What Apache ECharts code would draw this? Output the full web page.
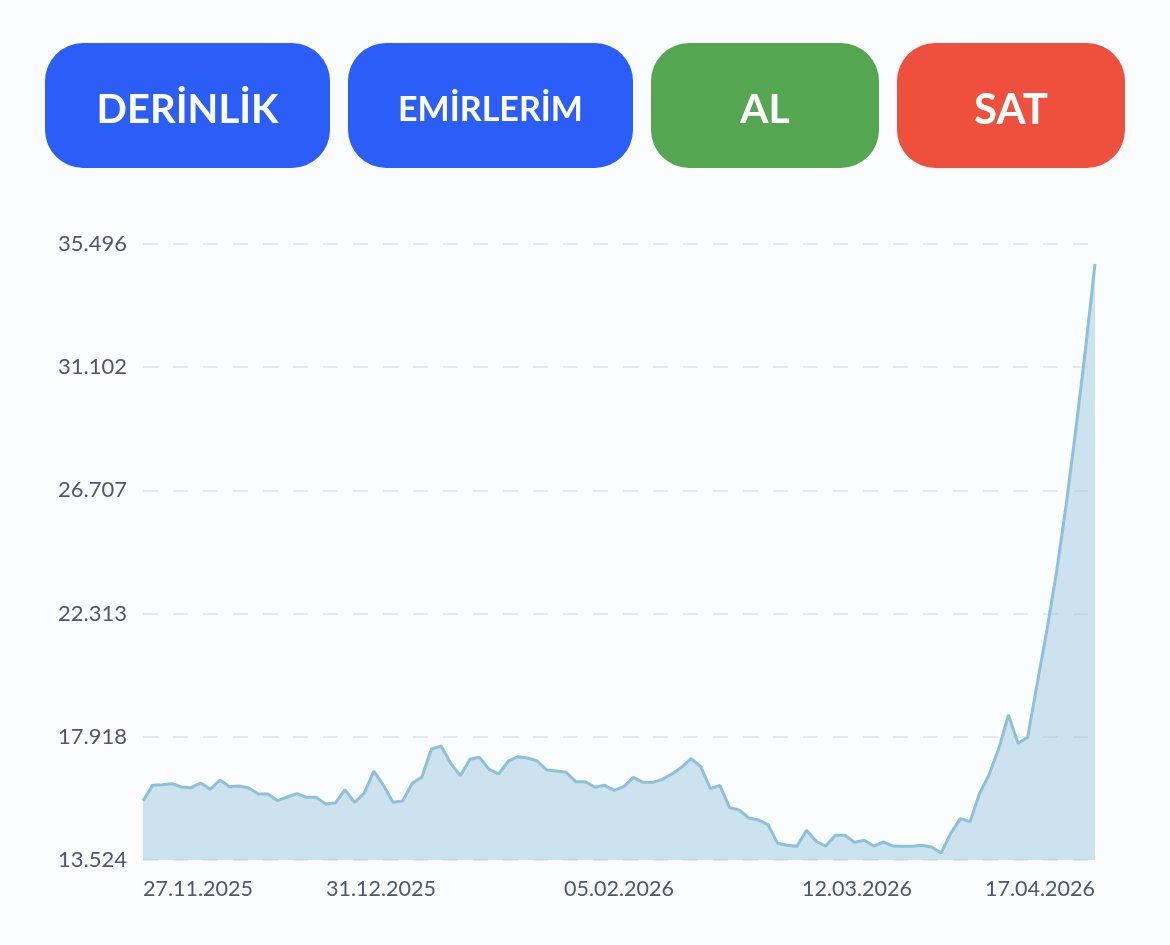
<!DOCTYPE html>
<html lang="tr">
<head>
<meta charset="utf-8">
<title>Fiyat grafiği</title>
<script src="https://cdn.jsdelivr.net/npm/echarts@6/dist/echarts.min.js"></script>
<style>
    html, body { margin: 0; padding: 0; background: #fbfcfe; }
    #chart { width: 1170px; height: 945px; }
</style>
</head>
<body>
<div id="chart"></div>
<script>
// grafik verileri
const prices = [
    15640, 16187, 16211, 16247, 16128, 16104, 16271, 16045, 16378, 16140,
    16164, 16092, 15878, 15878, 15640, 15771, 15890, 15759, 15759, 15522,
    15557, 16033, 15581, 15902, 16699, 16187, 15581, 15629, 16259, 16485,
    17483, 17590, 16972, 16532, 17115, 17186, 16758, 16592, 17055, 17210,
    17162, 17055, 16734, 16699, 16651, 16318, 16318, 16116, 16187, 16009,
    16140, 16473, 16294, 16294, 16401, 16592, 16829, 17139, 16853, 16068,
    16187, 15391, 15308, 15022, 14951, 14784, 14119, 14047, 14011, 14582,
    14190, 14023, 14404, 14404, 14154, 14226, 14023, 14166, 14023, 14011,
    14011, 14047, 13988, 13774, 14475, 14998, 14891, 15902, 16580, 17507,
    18696, 17686, 17900, 19837, 21728, 23797, 26187, 28862, 31716, 34783
];
const dateLabels = ['27.11.2025', '31.12.2025', '05.02.2026', '12.03.2026', '17.04.2026'];
const priceTicks = [13524, 17918, 22313, 26707, 31102, 35496];
const buttonLabels = ['DERİNLİK', 'EMİRLERİM', 'AL', 'SAT'];

const FONT = 'Lato, "Noto Sans", sans-serif';
const LABEL_COLOR = '#50566b';
const LINE_COLOR = '#8dc1da';

// üstteki butonlar
const buttonBoxes = [
    { x: 45, width: 285, color: '#2b5df8', size: 40 },
    { x: 348, width: 285, color: '#2b5df8', size: 34 },
    { x: 651, width: 228, color: '#55a651', size: 41 },
    { x: 897, width: 228, color: '#ef503d', size: 42 }
];

function buildButtons() {
    return buttonLabels.map((label, i) => {
        const box = buttonBoxes[i];
        return {
            type: 'group',
            children: [
                {
                    type: 'rect',
                    shape: { x: box.x, y: 43, width: box.width, height: 125, r: 38 },
                    style: { fill: box.color }
                },
                {
                    type: 'text',
                    x: box.x + box.width / 2,
                    y: 110,
                    style: {
                        text: label,
                        fill: '#fff',
                        font: `700 ${box.size}px ${FONT}`,
                        align: 'center',
                        verticalAlign: 'middle'
                    }
                }
            ]
        };
    });
}

const chart = echarts.init(document.getElementById('chart'));

const option = {
    backgroundColor: '#fbfcfe',
    animation: false,
    graphic: buildButtons(),
    grid: { left: 143, right: 75, top: 244, bottom: 85 },
    xAxis: {
        type: 'value',
        min: 0,
        max: prices.length - 1,
        interval: (prices.length - 1) / (dateLabels.length - 1),
        axisLine: { show: false },
        axisTick: { show: false },
        splitLine: { show: false },
        axisLabel: {
            color: LABEL_COLOR,
            fontFamily: FONT,
            fontSize: 21.5,
            margin: 18,
            alignMinLabel: 'left',
            alignMaxLabel: 'right',
            formatter: function (value) {
                return dateLabels[Math.round(value / ((prices.length - 1) / (dateLabels.length - 1)))];
            }
        }
    },
    yAxis: {
        type: 'value',
        min: priceTicks[0],
        max: priceTicks[priceTicks.length - 1],
        axisLine: { show: false },
        axisTick: { show: false, customValues: priceTicks },
        splitLine: {
            show: true,
            lineStyle: { color: '#e6e8ec', width: 2, type: [15, 15] }
        },
        axisLabel: {
            customValues: priceTicks,
            color: LABEL_COLOR,
            fontFamily: FONT,
            fontSize: 22,
            margin: 16,
            formatter: function (value) {
                return String(value).replace(/(\d)(?=\d{3}$)/, '$1.');
            }
        }
    },
    series: [{
        type: 'line',
        data: prices.map((p, i) => [i, p]),
        showSymbol: false,
        lineStyle: { color: LINE_COLOR, width: 3 },
        areaStyle: { color: LINE_COLOR, opacity: 0.43, origin: 'start' }
    }]
};

chart.setOption(option);
</script>
</body>
</html>
